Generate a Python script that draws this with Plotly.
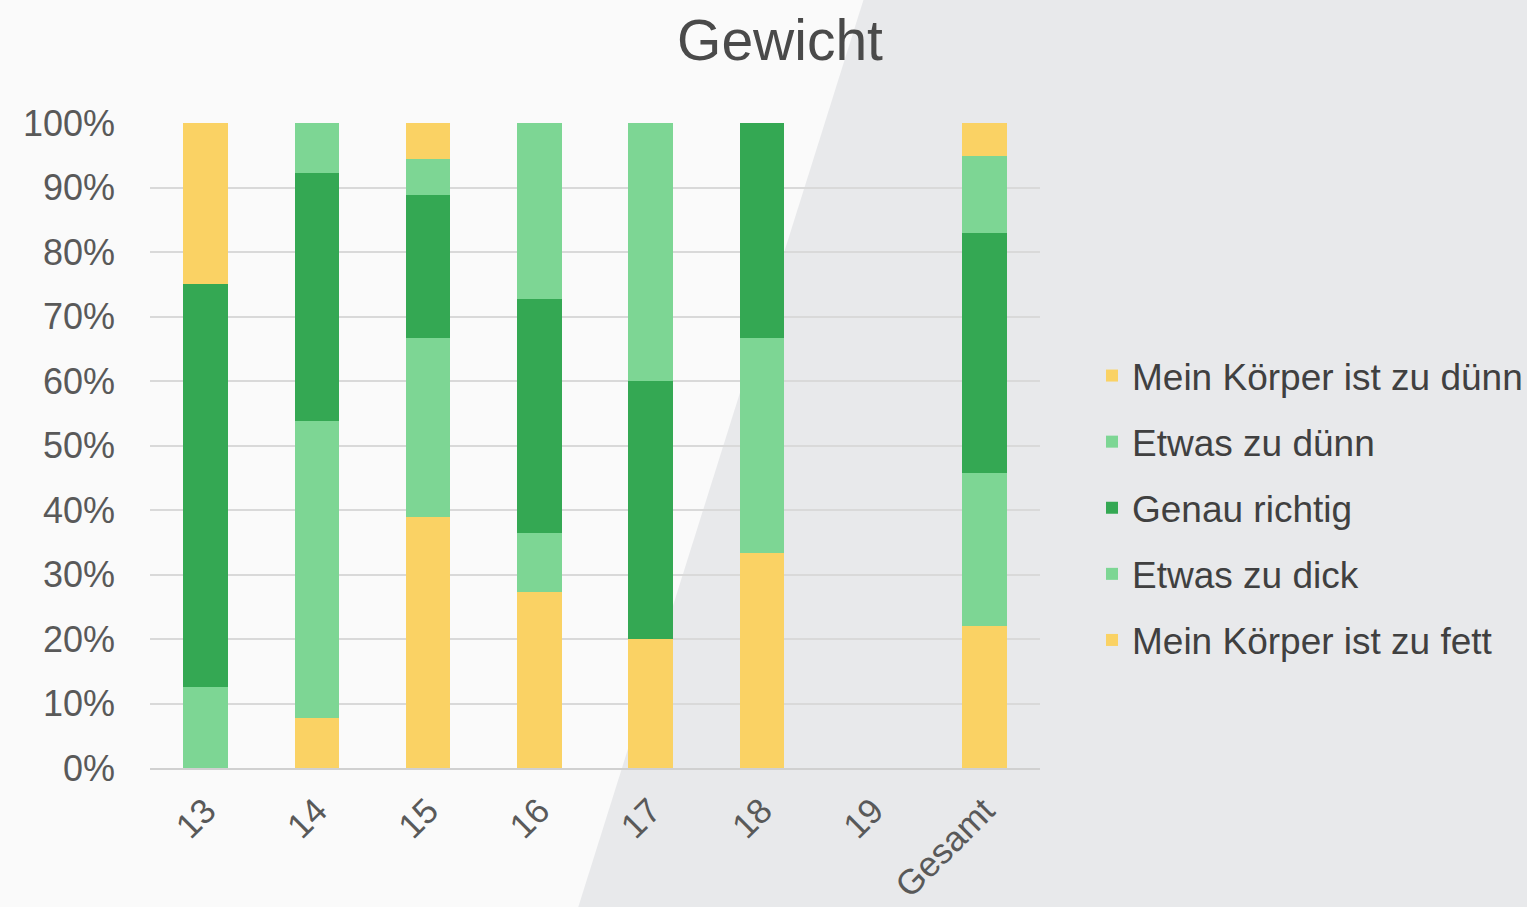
import plotly.graph_objects as go

# Age groups and overall total
categories = ["13", "14", "15", "16", "17", "18", "19", "Gesamt"]

# Share of answers per age group, in percent (bottom to top of each stack)
zu_fett = [0, 7.7, 38.9, 27.3, 20.0, 33.3, 0, 22.0]
etwas_zu_dick = [12.5, 46.1, 27.8, 9.1, 0, 33.4, 0, 23.8]
genau_richtig = [62.5, 38.5, 22.2, 36.3, 40.0, 33.3, 0, 37.2]
etwas_zu_duenn = [0, 7.7, 5.5, 27.3, 40.0, 0, 0, 11.9]
zu_duenn = [25.0, 0, 5.6, 0, 0, 0, 0, 5.1]

series = [
    ("Mein Körper ist zu fett", zu_fett, "#FAD264"),
    ("Etwas zu dick", etwas_zu_dick, "#7DD694"),
    ("Genau richtig", genau_richtig, "#34A853"),
    ("Etwas zu dünn", etwas_zu_duenn, "#7DD694"),
    ("Mein Körper ist zu dünn", zu_duenn, "#FAD264"),
]

FONT = "Arial, 'Liberation Sans', sans-serif"

fig = go.Figure()
for i, (name, vals, color) in enumerate(series):
    fig.add_trace(go.Bar(
        x=categories, y=vals, name=name, legendgroup=f"g{i}",
        legendrank=10 * (len(series) - i),  # top of the stack listed first
        marker=dict(color=color, line=dict(width=0)),
    ))

# plot area in pixels: x 150..1040, y 123..768
L, R, T, B = 150, 1040, 123, 768
W, H = 1527, 907

def px_x(px):
    return (px - L) / (R - L)

def px_y(py):
    return (B - py) / (B - T)

# diagonal grey backdrop on the right side
path = (f"M {px_x(865)} {px_y(-5)} L {px_x(W + 20)} {px_y(-5)} "
        f"L {px_x(W + 20)} {px_y(H + 20)} L {px_x(572)} {px_y(H + 20)} Z")

fig.update_layout(
    width=W, height=H,
    barmode="stack", bargap=0.6,
    margin=dict(l=L, r=W - R, t=T, b=H - B, pad=0, autoexpand=False),
    paper_bgcolor="#fafafa", plot_bgcolor="rgba(0,0,0,0)",
    font=dict(family=FONT, color="#595959"),
    title=dict(text="Gewicht", x=780 / W, xref="container", xanchor="center",
               y=1 - 40 / H, yref="container", yanchor="middle",
               font=dict(size=57, color="#4a4a4a", family=FONT)),
    shapes=[dict(type="path", path=path, xref="paper", yref="paper",
                 fillcolor="#e8e9eb", line=dict(width=0), layer="below")],
    legend=dict(x=px_x(1092), xanchor="left", y=px_y(508), yanchor="middle",
                traceorder="grouped", tracegroupgap=15,
                bgcolor="rgba(0,0,0,0)",
                font=dict(size=37, color="#404040", family=FONT)),
    showlegend=True,
)

fig.update_yaxes(range=[0, 100], dtick=10, ticksuffix="%", automargin=False,
                 showgrid=True, gridcolor="#d9d9d9", gridwidth=2,
                 zeroline=False, showline=False,
                 tickfont=dict(size=36, color="#595959"),
                 ticklabelstandoff=34)
fig.update_xaxes(showline=True, linecolor="#d0d0d0", linewidth=2, automargin=False,
                 tickangle=-45, tickfont=dict(size=35, color="#595959"),
                 ticklabelstandoff=6)

fig.write_html("out.html")
